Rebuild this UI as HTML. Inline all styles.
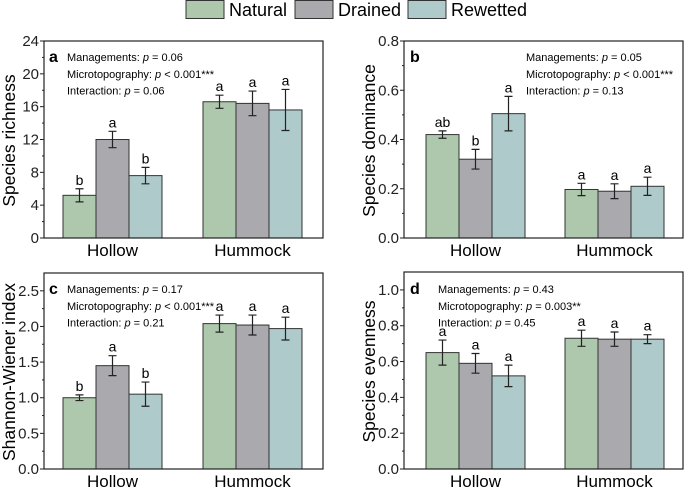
<!DOCTYPE html>
<html><head><meta charset="utf-8"><style>
body{margin:0;background:#fff}
svg{display:block;font-family:"Liberation Sans",Arial,sans-serif}
</style></head><body>
<svg id="c" width="685" height="488" viewBox="0 0 685 488">
<g>
<rect x="186" y="0.5" width="38" height="18" fill="#adc8ad" stroke="#333"/>
<text x="229" y="16" font-size="18">Natural</text>
<rect x="295" y="0.5" width="38" height="18" fill="#a9a9ae" stroke="#333"/>
<text x="338" y="16" font-size="18">Drained</text>
<rect x="408" y="0.5" width="38" height="18" fill="#aecacb" stroke="#333"/>
<text x="451" y="16" font-size="18">Rewetted</text>
</g>
</svg>
<script>
const categories=["Hollow","Hummock"];
const seriesNames=["Natural","Drained","Rewetted"];
const colors=["#adc8ad","#a9a9ae","#aecacb"];
// panel a
const aMeans=[[5.2,12.0,7.6],[16.6,16.4,15.6]];
const aErr=[[0.8,1.0,1.0],[0.8,1.5,2.5]];
const aLetters=[["b","a","b"],["a","a","a"]];
const aTicks=[0,4,8,12,16,20,24];
const aNotes=["Managements: p = 0.06","Microtopography: p < 0.001***","Interaction: p = 0.06"];
// panel b
const bMeans=[[0.42,0.32,0.505],[0.197,0.19,0.21]];
const bErr=[[0.015,0.04,0.07],[0.025,0.03,0.037]];
const bLetters=[["ab","b","a"],["a","a","a"]];
const bTicks=[0,0.2,0.4,0.6,0.8];
const bNotes=["Managements: p = 0.05","Microtopography: p < 0.001***","Interaction: p = 0.13"];
// panel c
const cMeans=[[1.0,1.45,1.05],[2.04,2.02,1.97]];
const cErr=[[0.04,0.14,0.17],[0.12,0.14,0.16]];
const cLetters=[["b","a","b"],["a","a","a"]];
const cTicks=[0,0.5,1.0,1.5,2.0,2.5];
const cNotes=["Managements: p = 0.17","Microtopography: p < 0.001***","Interaction: p = 0.21"];
// panel d
const dMeans=[[0.65,0.59,0.52],[0.73,0.725,0.725]];
const dErr=[[0.07,0.055,0.06],[0.045,0.04,0.025]];
const dLetters=[["a","a","a"],["a","a","a"]];
const dTicks=[0,0.2,0.4,0.6,0.8,1.0];
const dNotes=["Managements: p = 0.43","Microtopography: p = 0.003**","Interaction: p = 0.45"];

const svg=document.getElementById('c');
const NS="http://www.w3.org/2000/svg";
function mk(tag,attrs,parent){const e=document.createElementNS(NS,tag);for(const k in attrs)e.setAttribute(k,attrs[k]);(parent||svg).appendChild(e);return e;}

function panel(o){
  const g=mk('g',{});
  
  
  const y=v=>o.bottom-(v/o.ymax)*(o.bottom-o.top);
  categories.forEach((cat,ci)=>{
    const gx=o.left+o.off[ci];
    seriesNames.forEach((s,si)=>{
      const x=gx+si*o.bw, m=o.means[ci][si], e=o.err[ci][si];
      const r=mk('rect',{x:x,y:y(m),width:o.bw,height:o.bottom-y(m),fill:colors[si],stroke:'#333','stroke-width':1},g);
      
      
      const cx=x+o.bw/2;
      const eb=mk('path',{d:`M${cx},${y(m+e)}V${y(m-e)}M${cx-4},${y(m+e)}H${cx+4}M${cx-4},${y(m-e)}H${cx+4}`,stroke:'#222','stroke-width':1.2,fill:'none'},g);
      
      
      const t=mk('text',{x:cx,y:y(m+e)-4,'font-size':14,'text-anchor':'middle'},g);
      t.textContent=o.letters[ci][si];
      
      
    });
    const ct=mk('text',{x:gx+1.5*o.bw,y:o.bottom+18,'font-size':17,'text-anchor':'middle'},g);
    ct.textContent=cat;
    
    
  });
  const fr=mk('rect',{x:o.left,y:o.top,width:o.right-o.left,height:o.bottom-o.top,fill:'none',stroke:'#222','stroke-width':1.2},g);
  
  
  o.ticks.forEach((tv,i)=>{
    const ty=y(tv);
    mk('line',{x1:o.left-4,x2:o.left,y1:ty,y2:ty,stroke:'#222'},g);
    if(i<o.ticks.length-1){const my=y((tv+o.ticks[i+1])/2);mk('line',{x1:o.left-2,x2:o.left,y1:my,y2:my,stroke:'#222'},g);}
    const tl=mk('text',{x:o.left-5,y:ty+5,'font-size':15,'text-anchor':'end',fill:'#222'},g);
    tl.textContent=o.fmt(tv);
    
    
  });
  const yt=mk('text',{x:0,y:0,'font-size':17.5,'text-anchor':'middle',transform:`translate(${o.left-29},${(o.top+o.bottom)/2+1}) rotate(-90)`},g);
  yt.textContent=o.ylabel;
  
  
  const pl=mk('text',{x:o.lx,y:o.ny+5,'font-size':16,'font-weight':'bold'},g);
  pl.textContent=o.id;
  
  
  o.notes.forEach((n,i)=>{
    const t=mk('text',{x:o.nx,y:o.ny+4+i*16.8,'font-size':11},g);
    const parts=n.split(' p ');
    t.appendChild(document.createTextNode(parts[0]+' '));
    const ts=mk('tspan',{'font-style':'italic'},t);ts.textContent='p';
    t.appendChild(document.createTextNode(' '+parts[1]));
    
    
  });
}
const f0=v=>String(v), f1=v=>v.toFixed(1);
panel({id:'a',left:44,right:323,top:41,bottom:238,ymax:24,off:[19,159],bw:33,means:aMeans,err:aErr,letters:aLetters,ticks:aTicks,fmt:f0,ylabel:'Species richness',notes:aNotes,lx:49,nx:67,ny:57});
panel({id:'b',left:404,right:683,top:41,bottom:238,ymax:0.8,off:[22,161],bw:33,means:bMeans,err:bErr,letters:bLetters,ticks:bTicks,fmt:f1,ylabel:'Species dominance',notes:bNotes,lx:410,nx:526,ny:57});
panel({id:'c',left:44,right:323,top:273,bottom:469,ymax:2.75,off:[19,159],bw:33,means:cMeans,err:cErr,letters:cLetters,ticks:cTicks,fmt:f1,ylabel:'Shannon-Wiener index',notes:cNotes,lx:49,nx:67,ny:289});
panel({id:'d',left:404,right:683,top:272,bottom:469,ymax:1.1,off:[22,161],bw:33,means:dMeans,err:dErr,letters:dLetters,ticks:dTicks,fmt:f1,ylabel:'Species evenness',notes:dNotes,lx:410,nx:438,ny:289});
</script>
</body></html>
